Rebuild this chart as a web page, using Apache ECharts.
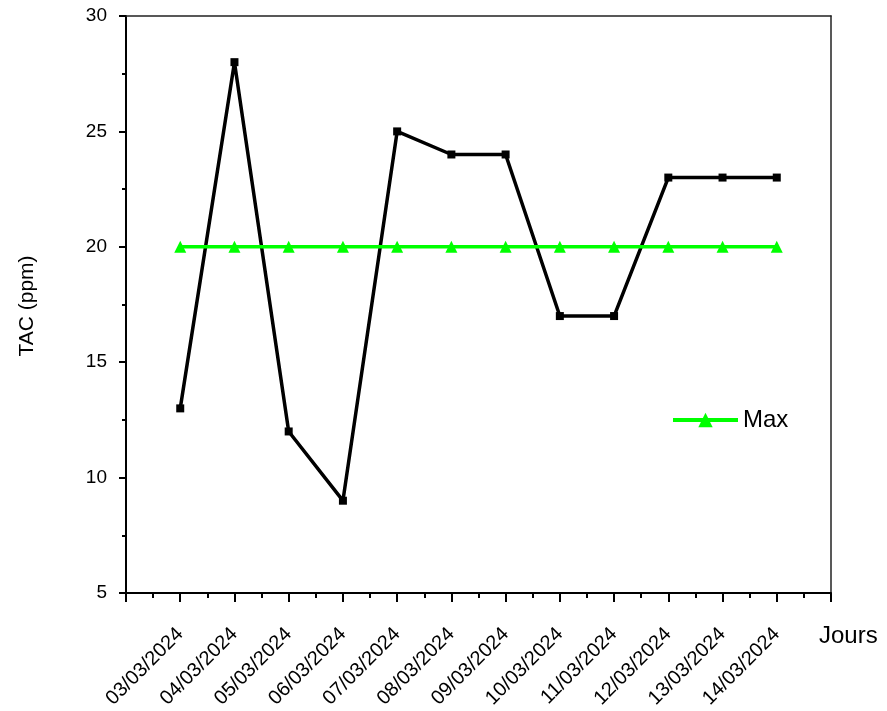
<!DOCTYPE html>
<html>
<head>
<meta charset="utf-8">
<script src="https://cdn.jsdelivr.net/npm/echarts@6/dist/echarts.min.js"></script>
<style>html,body{margin:0;padding:0;background:#fff;}#c{width:887px;height:711px;}</style>
</head>
<body>
<div id="c"></div>
<script>
const categories = ['03/03/2024','04/03/2024','05/03/2024','06/03/2024','07/03/2024','08/03/2024','09/03/2024','10/03/2024','11/03/2024','12/03/2024','13/03/2024','14/03/2024'];
const tacValues = [13, 28, 12, 9, 25, 24, 24, 17, 17, 23, 23, 23];
const maxValues = [20, 20, 20, 20, 20, 20, 20, 20, 20, 20, 20, 20];
const yTicks = [5, 10, 15, 20, 25, 30];

const FONT = 'Liberation Sans, Arial, sans-serif';
const chart = echarts.init(document.getElementById('c'), null, {renderer: 'canvas'});
const toPts = arr => arr.map((v, i) => [i + 1, v]);

chart.setOption({
  animation: false,
  backgroundColor: '#fff',
  grid: {left: 126, right: 56, top: 16, bottom: 117, containLabel: false},
  legend: {
    data: ['Max'],
    left: 666, top: 403,
    itemWidth: 65, itemHeight: 18,
    lineStyle: {width: 4},
    textStyle: {fontFamily: FONT, fontSize: 24, color: '#000'},
    itemGap: 6
  },
  xAxis: [{
    type: 'value', min: 0, max: categories.length + 1, interval: 1,
    position: 'bottom',
    axisLine: {show: true, onZero: false, lineStyle: {color: '#000', width: 2}},
    axisTick: {show: true, inside: false, length: 9, lineStyle: {color: '#000', width: 2}},
    minorTick: {show: true, splitNumber: 2, length: 5, lineStyle: {color: '#000', width: 2}},
    splitLine: {show: false},
    axisLabel: {
      rotate: 45, margin: 38, fontFamily: FONT, fontSize: 20, color: '#000',
      showMinLabel: true, showMaxLabel: true,
      formatter: v => categories[v - 1] || ''
    }
  }, {
    type: 'value', min: 0, max: categories.length + 1, position: 'top',
    axisLine: {show: true, onZero: false, lineStyle: {color: '#222', width: 1.5}},
    axisTick: {show: false}, axisLabel: {show: false}, splitLine: {show: false}
  }],
  yAxis: [{
    type: 'value', min: yTicks[0], max: yTicks[yTicks.length - 1], interval: 5,
    axisLine: {show: true, onZero: false, lineStyle: {color: '#000', width: 2}},
    axisTick: {show: true, inside: false, length: 7, lineStyle: {color: '#000', width: 2}},
    minorTick: {show: true, splitNumber: 2, length: 4, lineStyle: {color: '#000', width: 2}},
    splitLine: {show: false},
    axisLabel: {margin: 19, fontFamily: FONT, fontSize: 19, color: '#000'}
  }, {
    type: 'value', min: yTicks[0], max: yTicks[yTicks.length - 1], position: 'right',
    axisLine: {show: true, onZero: false, lineStyle: {color: '#222', width: 1.5}},
    axisTick: {show: false}, axisLabel: {show: false}, splitLine: {show: false}
  }],
  graphic: [
    {type: 'text', x: 27, y: 306, rotation: Math.PI / 2,
      style: {text: 'TAC (ppm)', font: '21px ' + FONT, fill: '#000', textAlign: 'center', textVerticalAlign: 'middle'}},
    {type: 'text', x: 819, y: 636,
      style: {text: 'Jours', font: '24px ' + FONT, fill: '#000', textVerticalAlign: 'middle'}}
  ],
  series: [{
    name: 'TAC',
    type: 'line',
    data: toPts(tacValues),
    symbol: 'rect', symbolSize: 8,
    itemStyle: {color: '#000'},
    lineStyle: {color: '#000', width: 3.5},
    z: 2
  }, {
    name: 'Max',
    type: 'line',
    data: toPts(maxValues),
    symbol: 'triangle', symbolSize: 12,
    itemStyle: {color: '#00ff00'},
    lineStyle: {color: '#00ff00', width: 3.5},
    z: 3
  }]
});
</script>
</body>
</html>
